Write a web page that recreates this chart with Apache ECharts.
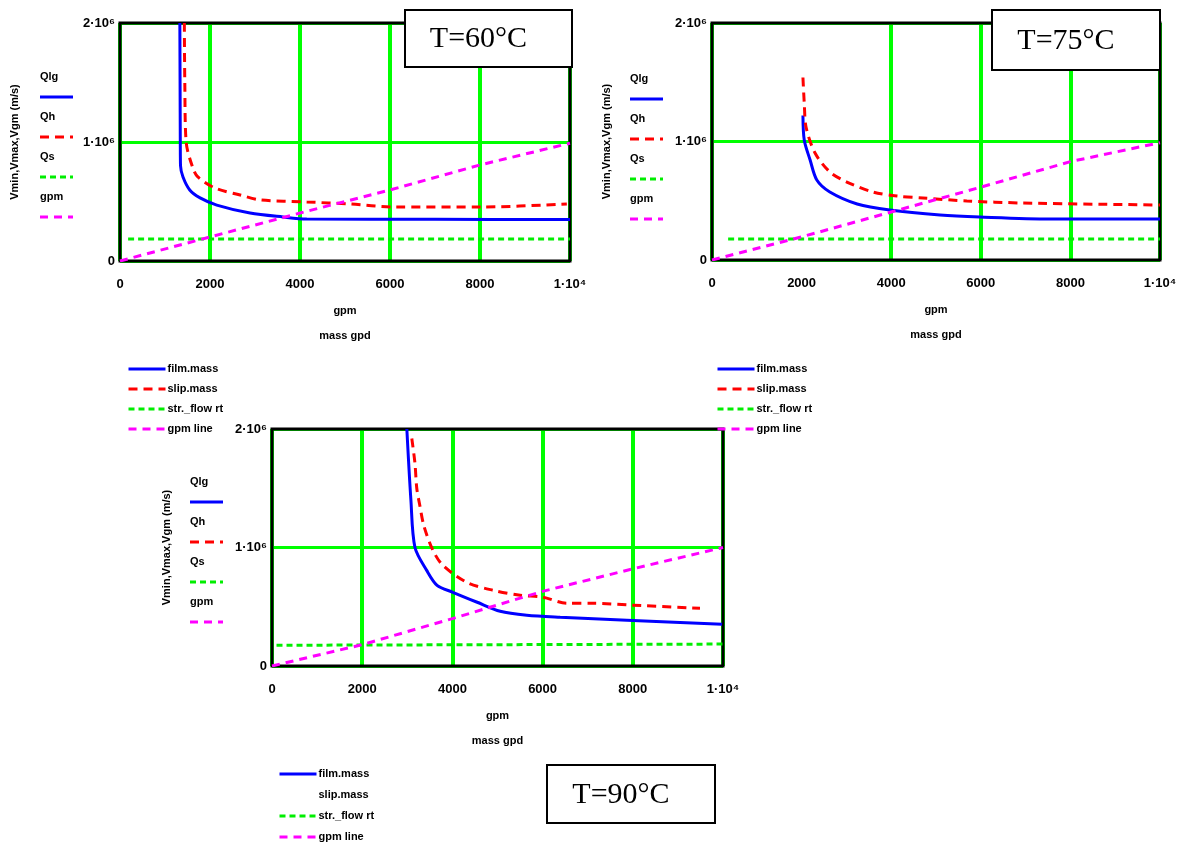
<!DOCTYPE html>
<html>
<head>
<meta charset="utf-8">
<script src="https://cdn.jsdelivr.net/npm/echarts@6/dist/echarts.min.js"></script>
<style>
  html, body { margin: 0; padding: 0; background: #fff; }
  #chart { width: 1181px; height: 845px; }
</style>
</head>
<body>
<div id="chart"></div>
<script>
// axis ranges
const xMin = 0
const xMax = 10000
const xStep = 2000
const yMin = 0
const yMax = 2000000
const yStep = 1000000

const seriesNames = ['film.mass', 'slip.mass', 'str._flow rt', 'gpm line']
const traceLabels = ['Qlg', 'Qh', 'Qs', 'gpm']
const titles = ['T=60°C', 'T=75°C', 'T=90°C']
const yAxisName = 'Vmin,Vmax,Vgm (m/s)'
const xAxisName = 'gpm\nmass gpd'

// T = 60
const film60 = [[1330, 2000000], [1335, 1500000], [1340, 1000000], [1345, 800000], [1400, 706000], [1550, 597000], [1780, 530000], [2150, 470000], [2890, 403000], [3620, 370000], [4150, 353000], [7000, 350000], [10000, 348000]]
const slip60 = [[1430, 2000000], [1440, 1500000], [1470, 1000000], [1620, 780000], [1730, 706000], [2110, 613000], [2670, 555000], [3110, 513000], [4150, 496000], [5110, 479000], [6070, 454000], [8070, 454000], [9930, 479000]]
const flow60 = [[180, 185000], [10000, 185000]]
const gpm60 = [[0, 0], [2000, 202000], [4000, 403000], [6000, 597000], [8000, 807000], [10000, 990000]]

// T = 75
const film75 = [[2030, 1220000], [2060, 1010000], [2190, 844000], [2340, 675000], [2630, 574000], [3240, 473000], [3970, 422000], [5090, 380000], [5980, 363000], [7540, 346000], [10000, 346000]]
const slip75 = [[2030, 1540000], [2060, 1320000], [2100, 1120000], [2300, 903000], [2630, 743000], [3010, 658000], [3590, 574000], [4130, 540000], [4710, 523000], [5690, 498000], [6940, 481000], [10000, 464000]]
const flow75 = [[360, 177000], [10000, 177000]]
const gpm75 = [[0, 0], [2000, 195000], [4000, 405000], [6000, 615000], [8000, 830000], [10000, 990000]]

// T = 90
const film90 = [[2990, 2000000], [3080, 1400000], [3170, 1000000], [3430, 807000], [3660, 681000], [4010, 622000], [4550, 538000], [5060, 462000], [5650, 429000], [6390, 412000], [7870, 387000], [9980, 353000]]
const slip90 = [[3100, 1920000], [3170, 1710000], [3210, 1500000], [3280, 1350000], [3370, 1180000], [3570, 975000], [3790, 849000], [4320, 706000], [4900, 639000], [5500, 597000], [6010, 580000], [6540, 529000], [7120, 529000], [8000, 513000], [9490, 487000]]
const flow90 = [[100, 175000], [10000, 185000]]
const gpm90 = [[0, 0], [2000, 180000], [4000, 400000], [6000, 630000], [8000, 820000], [10000, 1000000]]

const chartData = [
  [film60, slip60, flow60, gpm60],
  [film75, slip75, flow75, gpm75],
  [film90, slip90, flow90, gpm90]
]

const colors = ['#0000ff', '#ff0000', '#00ee00', '#ff00ff']
const dashes = ['solid', [9, 6], [6, 4], [8, 6]]
const gridGreen = '#00ff00'
const labelFont = { color: '#000', fontWeight: 'bold', fontSize: 13, fontFamily: 'Liberation Sans' }

const grids = [
  { left: 120, top: 23, width: 450, height: 238 },
  { left: 712, top: 23, width: 448, height: 237 },
  { left: 272, top: 429, width: 451, height: 237 }
]
// chart 2 has no grid line at 2000
const xGridColors = [
  [gridGreen],
  [gridGreen, 'rgba(0,0,0,0)', gridGreen, gridGreen, gridGreen, gridGreen],
  [gridGreen]
]
const legendPos = [{ left: 122, top: 358 }, { left: 711, top: 358 }, { left: 273, top: 763 }]
const tracePos = [{ x: 40, y: 78 }, { x: 630, y: 80 }, { x: 190, y: 483 }]
const titleBox = [
  { x: 405, y: 10, w: 167, h: 57 },
  { x: 992, y: 10, w: 168, h: 60 },
  { x: 547, y: 765, w: 168, h: 58 }
]

const xAxes = grids.map((g, i) => ({
  type: 'value',
  gridIndex: i,
  min: xMin,
  max: xMax,
  interval: xStep,
  name: xAxisName,
  nameLocation: 'middle',
  nameGap: 37,
  nameTextStyle: Object.assign({}, labelFont, { fontSize: 11, lineHeight: 25 }),
  axisLine: { show: false },
  axisTick: { show: false },
  axisLabel: Object.assign({}, labelFont, {
    margin: 17,
    formatter: v => (v === 10000 ? '1·10⁴' : String(v))
  }),
  splitLine: { show: true, showMinLine: true, lineStyle: { color: xGridColors[i], width: 4 } }
}))

const yAxes = grids.map((g, i) => ({
  type: 'value',
  gridIndex: i,
  min: yMin,
  max: yMax,
  interval: yStep,
  name: yAxisName,
  nameLocation: 'middle',
  nameRotate: 90,
  nameGap: 100,
  nameTextStyle: Object.assign({}, labelFont, { fontSize: 11 }),
  axisLine: { show: false },
  axisTick: { show: false },
  axisLabel: Object.assign({}, labelFont, {
    margin: 5,
    formatter: v => (v === 0 ? '0' : (v / 1000000) + '·10⁶')
  }),
  splitLine: { show: true, lineStyle: { color: gridGreen, width: 3 } }
}))

const series = []
chartData.forEach((set, i) => {
  set.forEach((data, k) => {
    series.push({
      name: seriesNames[k],
      type: 'line',
      xAxisIndex: i,
      yAxisIndex: i,
      data: data,
      symbol: 'none',
      smooth: k < 2 ? 0.3 : false,
      animation: false,
      z: 2 + k % 2,
      lineStyle: { color: colors[k], width: 3, type: dashes[k] },
      itemStyle: { color: colors[k] }
    })
  })
})

const legends = legendPos.map((p, i) => ({
  orient: 'vertical',
  left: p.left,
  top: p.top,
  height: 90,
  itemWidth: 37,
  itemHeight: 12,
  itemGap: i === 2 ? 9 : 8,
  selectedMode: false,
  itemStyle: { opacity: 0 },
  lineStyle: { width: 3 },
  textStyle: Object.assign({}, labelFont, { fontSize: 11, lineHeight: 12, padding: [0, 0, 0, -3] }),
  data: seriesNames.map((n, k) => {
    // the T=90 panel shows no sample for the second trace
    if (i === 2 && k === 1) return { name: n, lineStyle: { opacity: 0 } }
    return { name: n }
  })
}))

// trace labels left of each y axis, text above its line sample
const graphics = []
tracePos.forEach(p => {
  traceLabels.forEach((t, k) => {
    const y0 = p.y + k * 40
    graphics.push({
      type: 'text',
      left: p.x,
      top: y0 - 7,
      style: { text: t, fill: '#000', font: 'bold 11px "Liberation Sans"' }
    })
    graphics.push({
      type: 'line',
      shape: { x1: p.x, y1: y0 + 19, x2: p.x + 33, y2: y0 + 19 },
      style: { stroke: colors[k], lineWidth: 3, lineDash: dashes[k] === 'solid' ? null : dashes[k] }
    })
  })
})
titleBox.forEach((b, i) => {
  graphics.push({
    type: 'rect',
    z: 10,
    shape: { x: b.x, y: b.y, width: b.w, height: b.h },
    style: { fill: '#fff', stroke: '#000', lineWidth: 2 }
  })
  graphics.push({
    type: 'text',
    z: 11,
    x: b.x + b.w / 2 - 10,
    y: b.y + b.h / 2 + 1,
    style: {
      text: titles[i],
      fill: '#000',
      font: '30px "Liberation Serif"',
      align: 'center',
      verticalAlign: 'middle'
    }
  })
})

const chart = echarts.init(document.getElementById('chart'))
chart.setOption({
  backgroundColor: '#fff',
  animation: false,
  grid: grids.map(g => Object.assign({ show: true, borderColor: '#000', borderWidth: 3, z: 1 }, g)),
  xAxis: xAxes,
  yAxis: yAxes,
  legend: legends,
  graphic: graphics,
  series: series
})
</script>
</body>
</html>
